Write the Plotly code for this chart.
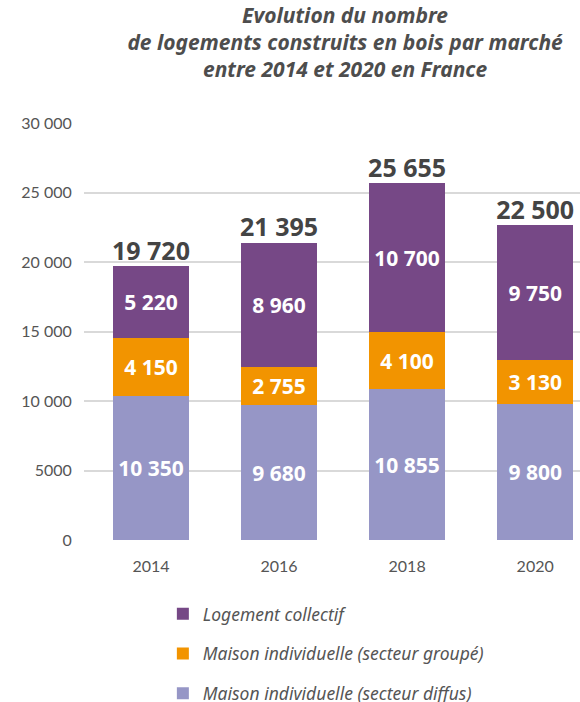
import plotly.graph_objects as go

years = ["2014", "2016", "2018", "2020"]
diffus = [10350, 9680, 10855, 9800]
groupe = [4150, 2755, 4100, 3130]
collectif = [5220, 8960, 10700, 9750]
totals = [19720, 21395, 25655, 22500]

y_ticks = [0, 5000, 10000, 15000, 20000, 25000, 30000]
y_ticktext = ["0", "5000", "10 000", "15 000", "20 000", "25 000", "30 000"]


def fmt(v):
    return f"{v:,}".replace(",", " ")


FONT = "Noto Sans"
# (name, values, colour, legend rank)
series = [
    ("Maison individuelle (secteur diffus)", diffus, "#9696c6", 3),
    ("Maison individuelle (secteur groupé)", groupe, "#f29400", 2),
    ("Logement collectif", collectif, "#764886", 1),
]

fig = go.Figure()
for name, vals, color, rank in series:
    fig.add_trace(go.Bar(
        x=years, y=vals, name=name, legendgroup=name, legendrank=rank,
        marker=dict(color=color, line=dict(width=0)),
        text=[fmt(v) for v in vals], textposition="inside",
        insidetextanchor="middle",
        textfont=dict(family=FONT, size=21, color="white", weight="bold"),
    ))

# totals written above each stack
stack_top = [a + b + c for a, b, c in zip(diffus, groupe, collectif)]
fig.add_trace(go.Scatter(
    x=years, y=stack_top, mode="text", text=[fmt(t) for t in totals],
    textposition="top center", showlegend=False, cliponaxis=False,
    textfont=dict(family=FONT, size=25, color="#444444", weight="bold"),
))

fig.update_layout(
    width=580, height=702,
    margin=dict(l=84, r=0, t=123, b=162),
    plot_bgcolor="white", paper_bgcolor="white",
    barmode="stack", bargap=0.41,
    title=dict(
        text="Evolution du nombre<br>de logements construits en bois par marché<br>entre 2014 et 2020 en France",
        x=0.595, xanchor="center", xref="container",
        y=0.9675, yanchor="top", yref="container",
        font=dict(family=FONT, size=21, color="#4d4d4d", weight="bold", style="italic"),
    ),
    xaxis=dict(type="category", range=[-0.523, 3.35], automargin=False,
               showgrid=False, showline=False, zeroline=False, tickangle=0,
               ticks="outside", ticklen=12, tickcolor="rgba(0,0,0,0)",
               tickfont=dict(family="Lato", size=16, color="#555555")),
    yaxis=dict(range=[0, 30000], tickvals=y_ticks, ticktext=y_ticktext, automargin=False,
               showgrid=True, gridcolor="#d9d9d9", gridwidth=1.5,
               zeroline=False, showline=False,
               ticks="outside", ticklen=8, tickcolor="rgba(0,0,0,0)",
               tickfont=dict(family="Lato", size=16, color="#555555")),
    legend=dict(x=0.159, y=0.151, yref="container",
                xanchor="left", yanchor="top",
                traceorder="grouped", tracegroupgap=14,
                font=dict(family=FONT, size=17.5, color="#555555", style="italic")),
)

# the page body has a default 8px margin; drop it so the figure fills the window
fig.write_html("out.html", config={"displayModeBar": False},
               post_script="document.body.style.margin='0';")
